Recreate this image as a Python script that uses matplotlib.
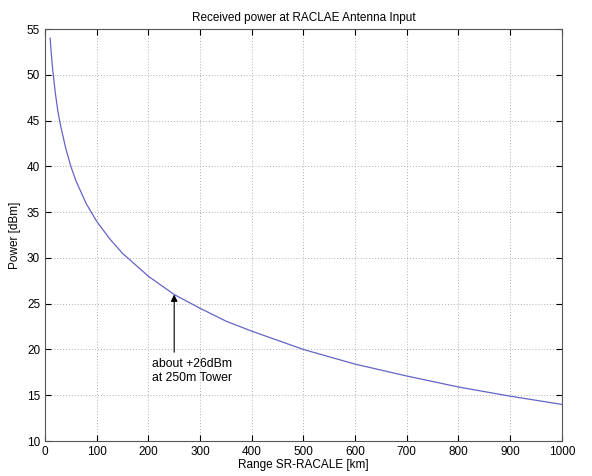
import matplotlib.pyplot as plt

range_km = [10, 12, 15, 20, 25, 30, 40, 50, 60, 80, 100, 125, 150, 200, 250,
            300, 350, 400, 500, 600, 700, 800, 900, 1000]
power_dbm = [54.0, 52.4, 50.5, 48.0, 46.0, 44.5, 42.0, 40.0, 38.4, 35.9, 34.0,
             32.1, 30.5, 28.0, 26.0, 24.5, 23.1, 22.0, 20.0, 18.4, 17.1, 15.9,
             14.9, 14.0]

plt.rcParams['font.family'] = ['Liberation Sans', 'DejaVu Sans']
fig = plt.figure(figsize=(5.92, 4.76), dpi=100)
ax = fig.add_axes([0.076, 0.0735, 0.873, 0.8655])

ax.plot(range_km, power_dbm, color='#6464c8', lw=0.9)
ax.set_xlim(0, 1000)
ax.set_ylim(10, 55)
ax.set_xticks(range(0, 1001, 100))
ax.set_yticks(range(10, 56, 5))
ax.grid(True, ls=(0, (1, 2)), color='#b0b0b0', lw=0.7)
ax.tick_params(direction='in', top=True, right=True, labelsize=8.5, length=4)
for s in ax.spines.values():
    s.set_color('#555555')
    s.set_linewidth(0.8)

ax.annotate('', xy=(250, 26.0), xytext=(250, 19.7),
            arrowprops=dict(arrowstyle='-|>', color='black', lw=0.8,
                            shrinkA=0, shrinkB=0))
ax.text(207, 16.2, 'about +26dBm\nat 250m Tower', fontsize=8.8,
        ha='left', va='bottom', linespacing=1.25)

ax.set_title('Received power at RACLAE Antenna Input', fontsize=8.5, pad=6)
ax.set_xlabel('Range SR-RACALE [km]', fontsize=8.5, labelpad=1)
ax.set_ylabel('Power [dBm]', fontsize=8.5, labelpad=4)

plt.savefig('out.png', dpi=100)
